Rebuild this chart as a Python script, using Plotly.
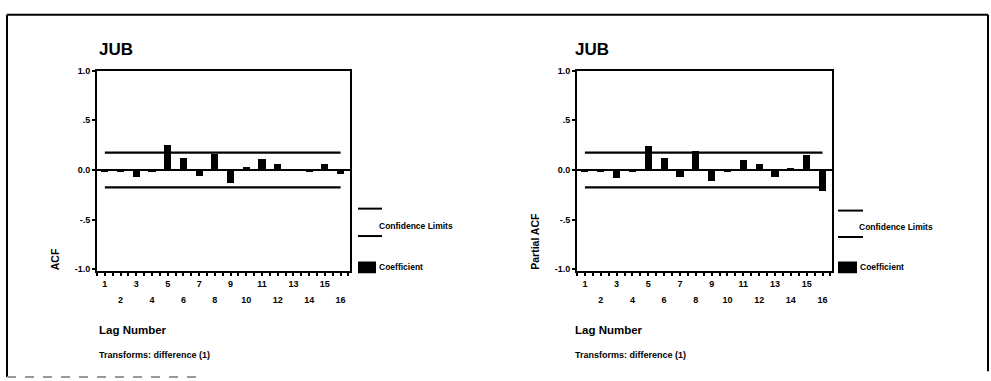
import plotly.graph_objects as go

# ---------------- data ----------------
lags = list(range(1, 17))
acf = [-0.01, -0.02, -0.07, -0.02, 0.26, 0.12, -0.06, 0.16, -0.13, 0.03, 0.11, 0.06, 0.01, -0.01, 0.06, -0.04]
pacf = [-0.01, -0.02, -0.08, -0.02, 0.25, 0.12, -0.07, 0.19, -0.11, -0.01, 0.10, 0.06, -0.07, 0.02, 0.15, -0.21]
conf_acf = 0.175
conf_pacf = 0.175
series_title = "JUB"
y_tickvals = [1.0, 0.5, 0.0, -0.5, -1.0]
y_ticktext = ["1.0", ".5", "0.0", "-.5", "-1.0"]

# ---------------- layout helpers ----------------
W, H = 991, 381
FONT = "Liberation Sans, Arial, sans-serif"


def px(x):
    return x / W


def py(y):
    return 1 - y / H


half_ticks = [l - 0.5 for l in lags] + [lags[-1] + 0.5]
half_ticks = sorted(set(half_ticks + lags))
odd_text = [str(int(t)) if (t == int(t) and int(t) % 2 == 1) else "" for t in half_ticks]
even_vals = [l for l in lags if l % 2 == 0]
even_text = [str(l) for l in even_vals]

fig = go.Figure()

panels = [
    dict(vals=acf, conf=conf_acf, xa="x", ya="y", xo="x3"),
    dict(vals=pacf, conf=conf_pacf, xa="x2", ya="y2", xo="x4"),
]
for p in panels:
    fig.add_trace(go.Bar(x=lags, y=p["vals"], width=0.45, marker=dict(color="black", line=dict(width=0)),
                         xaxis=p["xa"], yaxis=p["ya"], showlegend=False))
    for c in (p["conf"], -p["conf"]):
        fig.add_trace(go.Scatter(x=[lags[0], lags[-1]], y=[c, c], mode="lines",
                                 line=dict(color="black", width=2.2), xaxis=p["xa"], yaxis=p["ya"],
                                 showlegend=False, hoverinfo="skip"))
    # invisible trace to activate overlay axis for even labels
    fig.add_trace(go.Scatter(x=even_vals, y=[0] * len(even_vals), mode="markers", marker=dict(opacity=0),
                             xaxis=p["xo"], yaxis=p["ya"], showlegend=False, hoverinfo="skip"))

xrange = [0.5, 16.6]
yrange = [-1.02, 1.0]
tickfont = dict(family=FONT, size=9, color="black", weight="bold")

common_x = dict(range=xrange, showline=True, linecolor="black", linewidth=2, mirror=True,
                showgrid=False, zeroline=False, ticks="outside", ticklen=3, tickwidth=1.5,
                tickcolor="black", tickmode="array", tickvals=half_ticks, ticktext=odd_text,
                tickfont=tickfont, tickangle=0, fixedrange=True)
common_y = dict(range=yrange, showline=True, linecolor="black", linewidth=2, mirror=True,
                showgrid=False, zeroline=True, zerolinecolor="black", zerolinewidth=2.2,
                ticks="outside", ticklen=3, tickwidth=1.5, tickcolor="black",
                tickmode="array", tickvals=y_tickvals, ticktext=y_ticktext, tickfont=tickfont,
                fixedrange=True)
overlay_x = dict(range=xrange, showline=False, showgrid=False, zeroline=False, ticks="",
                 tickmode="array", tickvals=even_vals, ticktext=even_text, tickfont=tickfont,
                 tickangle=0, ticklabelstandoff=22, side="bottom", fixedrange=True)

ydom = [py(272), py(67)]
fig.update_layout(
    width=W, height=H, margin=dict(l=0, r=0, t=0, b=0),
    paper_bgcolor="white", plot_bgcolor="white", bargap=0,
    font=dict(family=FONT, color="black"),
    xaxis=dict(domain=[px(97), px(350)], anchor="y", **common_x),
    yaxis=dict(domain=ydom, anchor="x", **common_y),
    xaxis2=dict(domain=[px(577), px(832)], anchor="y2", **common_x),
    yaxis2=dict(domain=ydom, anchor="x2", **common_y),
    xaxis3=dict(overlaying="x", anchor="y", **overlay_x),
    xaxis4=dict(overlaying="x2", anchor="y2", **overlay_x),
)

annotations = []
shapes = []
panel_geo = [
    dict(left=97, ytitle="ACF", ytx=55, leg_x0=358, leg_x1=382, leg_y1=208, leg_y2=236, txt_x=377,
         box_x1=376, conf_ty=226),
    dict(left=573, ytitle="Partial ACF", ytx=535, leg_x0=838, leg_x1=863, leg_y1=210, leg_y2=237, txt_x=857,
         box_x1=857, conf_ty=227),
]
for g in panel_geo:
    annotations.append(dict(text=series_title, x=px(g["left"]), y=py(45), xref="paper", yref="paper",
                            xanchor="left", yanchor="middle", showarrow=False,
                            font=dict(family=FONT, size=17, color="black", weight="bold")))
    annotations.append(dict(text="Lag Number", x=px(g["left"]), y=py(332), xref="paper", yref="paper",
                            xanchor="left", yanchor="middle", showarrow=False,
                            font=dict(family=FONT, size=11.5, color="black", weight="bold")))
    annotations.append(dict(text="Transforms: difference (1)", x=px(g["left"]), y=py(357), xref="paper",
                            yref="paper", xanchor="left", yanchor="middle", showarrow=False,
                            font=dict(family=FONT, size=9, color="black", weight="bold")))
    annotations.append(dict(text=g["ytitle"], x=px(g["ytx"]), y=py(273), xref="paper", yref="paper",
                            xanchor="center", yanchor="bottom", textangle=-90, showarrow=False,
                            font=dict(family=FONT, size=10.5, color="black", weight="bold")))
    # legend
    for ly in (g["leg_y1"], g["leg_y2"]):
        shapes.append(dict(type="line", xref="paper", yref="paper", x0=px(g["leg_x0"]), x1=px(g["leg_x1"]),
                           y0=py(ly), y1=py(ly), line=dict(color="black", width=2)))
    annotations.append(dict(text="Confidence Limits", x=px(g["txt_x"]), y=py(g["conf_ty"]), xref="paper",
                            yref="paper", xanchor="left", yanchor="middle", showarrow=False,
                            font=dict(family=FONT, size=8.5, color="black", weight="bold")))
    shapes.append(dict(type="rect", xref="paper", yref="paper", x0=px(g["leg_x0"]), x1=px(g["box_x1"]),
                       y0=py(274), y1=py(262), fillcolor="black", line=dict(width=0)))
    annotations.append(dict(text="Coefficient", x=px(g["box_x1"] + 1), y=py(268), xref="paper",
                            yref="paper", xanchor="left", yanchor="middle", showarrow=False,
                            font=dict(family=FONT, size=8.5, color="black", weight="bold")))

# outer frame
frame = dict(color="black", width=2)
shapes += [
    dict(type="line", xref="paper", yref="paper", x0=px(7), x1=px(988), y0=py(10), y1=py(10), line=frame),
    dict(type="line", xref="paper", yref="paper", x0=px(7), x1=px(7), y0=py(10), y1=py(380), line=frame),
    dict(type="line", xref="paper", yref="paper", x0=px(988), x1=px(988), y0=py(10), y1=py(374), line=frame),
    dict(type="line", xref="paper", yref="paper", x0=px(7), x1=px(205), y0=py(380), y1=py(380),
         line=dict(color="#9a9a9a", width=2, dash="dash")),
]

fig.update_layout(annotations=annotations, shapes=shapes)
fig.write_html("out.html")
